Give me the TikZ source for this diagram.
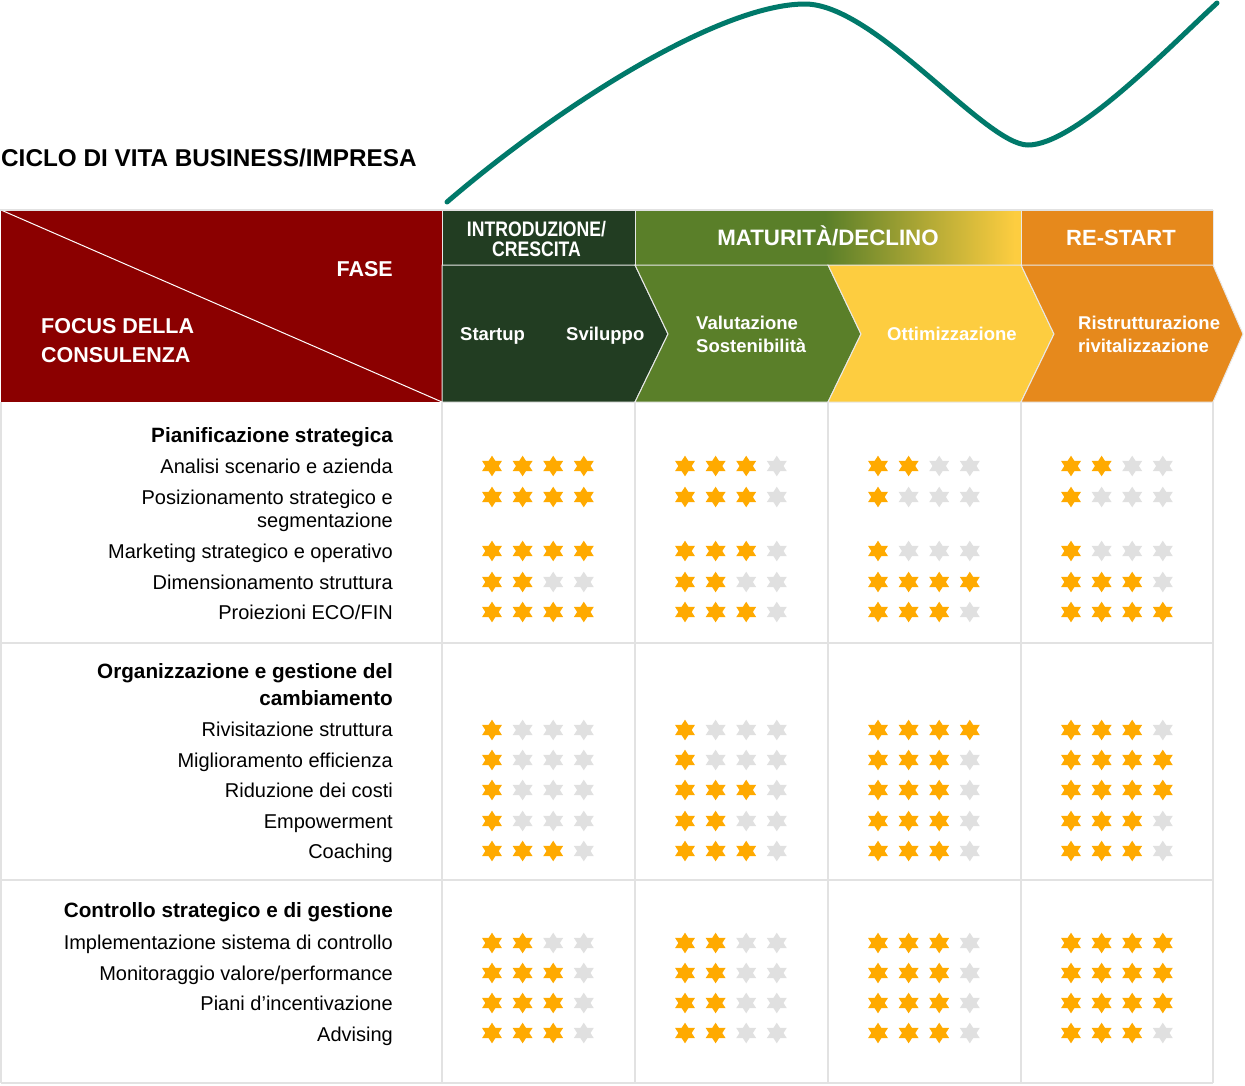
\documentclass[tikz,border=0pt]{standalone}
\usepackage{fontspec}
\setmainfont{Liberation Sans}
\definecolor{redbox}{HTML}{8B0000}
\definecolor{dkgreen}{HTML}{223D22}
\definecolor{mdgreen}{HTML}{5A7F29}
\definecolor{yel}{HTML}{FDCD40}
\definecolor{orng}{HTML}{E6891C}
\definecolor{curveteal}{HTML}{00796A}
\definecolor{staron}{HTML}{FFAA00}
\definecolor{staroff}{HTML}{E0E0E0}
\definecolor{gridgray}{HTML}{E2E2E2}
\definecolor{chevline}{HTML}{E8E8E8}

\newcommand\starrow[5]{%
  \foreach \cc/\nn in {0/#2,1/#3,2/#4,3/#5}{%
    \foreach \kk in {0,1,2,3}{%
      \ifnum\kk<\nn\relax \def\starcol{staron}\else\def\starcol{staroff}\fi
      \begin{scope}[shift={({492+193*\cc+30.6*\kk},#1)}, xscale=1.12]
        \fill[\starcol] (90:10.3) -- (60:5.95) -- (30:10.3) -- (0:5.95) -- (-30:10.3) -- (-60:5.95)
          -- (-90:10.3) -- (-120:5.95) -- (-150:10.3) -- (180:5.95) -- (150:10.3) -- (120:5.95) -- cycle;
      \end{scope}
    }%
  }%
}

\begin{document}
\begin{tikzpicture}[x=1pt,y=-1pt,
  gridline/.style={draw=gridgray,line width=1.5pt},
  chevborder/.style={draw=chevline,line width=1pt},
  whitetxt/.style={text=white, inner sep=0pt, font=\bfseries\fontsize{18.5}{22}\selectfont},
  bigwhite/.style={text=white, inner sep=0pt, font=\bfseries\fontsize{21}{24}\selectfont},
  lbl/.style={anchor=base east, inner sep=0pt, font=\fontsize{20}{24}\selectfont},
  sechead/.style={anchor=base east, inner sep=0pt, font=\bfseries\fontsize{20.7}{25}\selectfont},
]
\useasboundingbox (0,0) rectangle (1245,1085);
\fill[white] (0,0) rectangle (1245,1085);

% life cycle curve
\draw[curveteal, line width=5pt, line cap=round]
  (447,202) .. controls (560,105) and (720,4) .. (805,4)
  .. controls (875,4) and (985,145) .. (1028,145)
  .. controls (1075,145) and (1167,49) .. (1217,3);

% title
\node[anchor=base west, inner sep=0pt, font=\bfseries\fontsize{24.3}{28}\selectfont] (title) at (1,166) {CICLO DI VITA BUSINESS/IMPRESA};

% red corner box
\fill[redbox] (1,210) rectangle (442,402);
\draw[white, line width=1pt] (1,210) -- (442,402);
\node[bigwhite, anchor=base east, font=\bfseries\fontsize{21.5}{26}\selectfont] (fase) at (393,276.5) {FASE};
\node[bigwhite, anchor=base west, font=\bfseries\fontsize{21.5}{26}\selectfont] (focus1) at (41,333.5) {FOCUS DELLA};
\node[bigwhite, anchor=base west, font=\bfseries\fontsize{21.5}{26}\selectfont] (focus2) at (41,362.3) {CONSULENZA};

% top header row
\fill[dkgreen] (442,210) rectangle (635,265);
\fill[mdgreen] (635,210) rectangle (826,265);
\shade[left color=mdgreen, right color=yel] (825,210) rectangle (1015,265);
\fill[yel] (1014,210) rectangle (1021,265);
\fill[orng] (1021,210) rectangle (1213,265);
\draw[chevborder] (442,210) rectangle (635,265);
\draw[chevborder] (635,210) rectangle (1021,265);
\draw[chevborder] (1021,210) rectangle (1213,265);

\node[bigwhite, anchor=base] (intro1) at (536.5,236.7) {\scalebox{0.84}[1]{INTRODUZIONE/}};
\node[bigwhite, anchor=base] (intro2) at (536.5,256) {\scalebox{0.84}[1]{CRESCITA}};
\node[bigwhite, anchor=base, font=\bfseries\fontsize{22.3}{26}\selectfont] (matur) at (828,245) {MATURITÀ/DECLINO};
\node[bigwhite, anchor=base, font=\bfseries\fontsize{22}{26}\selectfont] (restart) at (1121,245) {RE-START};

% chevrons
\filldraw[fill=dkgreen, chevborder] (442,265) -- (635,265) -- (668,334) -- (635,402) -- (442,402) -- cycle;
\filldraw[fill=mdgreen, chevborder] (635,265) -- (828,265) -- (861,334) -- (828,402) -- (635,402) -- (668,334) -- cycle;
\filldraw[fill=yel, chevborder] (828,265) -- (1021,265) -- (1054,334) -- (1021,402) -- (828,402) -- (861,334) -- cycle;
\filldraw[fill=orng, chevborder] (1021,265) -- (1213,265) -- (1243,334) -- (1213,402) -- (1021,402) -- (1054,334) -- cycle;

\node[whitetxt, anchor=base west] (startup) at (460,340) {Startup};
\node[whitetxt, anchor=base west] (sviluppo) at (566,340) {Sviluppo};
\node[whitetxt, anchor=base west] (valut) at (696,329.3) {Valutazione};
\node[whitetxt, anchor=base west] (sosten) at (696,352.7) {Sostenibilità};
\node[whitetxt, anchor=base west] (ottim) at (887,340) {Ottimizzazione};
\node[whitetxt, anchor=base west] (ristr) at (1078,329.3) {Ristrutturazione};
\node[whitetxt, anchor=base west] (rivit) at (1078,352.7) {rivitalizzazione};

% body grid
\foreach \xx in {1,442,635,828,1021,1213} { \draw[gridline] (\xx,402) -- (\xx,1083); }
\foreach \yy in {643,880,1083} { \draw[gridline] (1,\yy) -- (1213,\yy); }
\draw[gridline] (0,210) -- (1213,210);

% section 1
\node[sechead] (s1) at (393,442) {Pianificazione strategica};
\node[lbl] (r11) at (393,473) {Analisi scenario e azienda};
\node[lbl] (r12a) at (393,504) {Posizionamento strategico e};
\node[lbl] (r12b) at (393,527) {segmentazione};
\node[lbl] (r13) at (393,558) {Marketing strategico e operativo};
\node[lbl] (r14) at (393,589) {Dimensionamento struttura};
\node[lbl] (r15) at (393,619) {Proiezioni ECO/FIN};

% section 2
\node[sechead] (s2a) at (393,678) {Organizzazione e gestione del};
\node[sechead] (s2b) at (393,705) {cambiamento};
\node[lbl] (r21) at (393,736) {Rivisitazione struttura};
\node[lbl] (r22) at (393,767) {Miglioramento efficienza};
\node[lbl] (r23) at (393,797) {Riduzione dei costi};
\node[lbl] (r24) at (393,828) {Empowerment};
\node[lbl] (r25) at (393,858) {Coaching};

% section 3
\node[sechead] (s3) at (393,917) {Controllo strategico e di gestione};
\node[lbl] (r31) at (393,949) {Implementazione sistema di controllo};
\node[lbl] (r32) at (393,980) {Monitoraggio valore/performance};
\node[lbl] (r33) at (393,1010) {Piani d’incentivazione};
\node[lbl] (r34) at (393,1041) {Advising};

% stars
\starrow{466}{4}{3}{2}{2}
\starrow{497}{4}{3}{1}{1}
\starrow{551}{4}{3}{1}{1}
\starrow{582}{2}{2}{4}{3}
\starrow{612}{4}{3}{3}{4}
\starrow{730}{1}{1}{4}{3}
\starrow{760}{1}{1}{3}{4}
\starrow{790}{1}{3}{3}{4}
\starrow{821}{1}{2}{3}{3}
\starrow{851}{3}{3}{3}{3}
\starrow{943}{2}{2}{3}{4}
\starrow{973}{3}{2}{3}{4}
\starrow{1003}{3}{2}{3}{4}
\starrow{1033}{3}{2}{3}{3}
\end{tikzpicture}
\end{document}
